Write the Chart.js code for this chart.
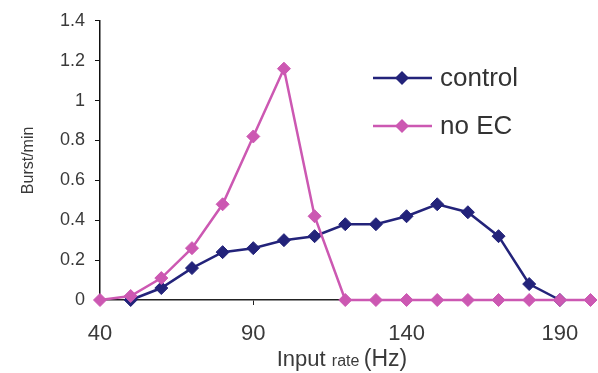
<!DOCTYPE html>
<html>
<head>
<meta charset="utf-8">
<script src="https://cdn.jsdelivr.net/npm/chart.js@4/dist/chart.umd.min.js"></script>
<style>
  html, body { margin: 0; padding: 0; background: #fff; }
  #wrap { width: 598px; height: 373px; position: relative; }
</style>
</head>
<body>
<div id="wrap"><canvas id="burstChart"></canvas></div>
<script>
// --- data ---
const inputRates = [40, 50, 60, 70, 80, 90, 100, 110, 120, 130, 140, 150, 160, 170, 180, 190, 200];
const controlBursts = [null, 0, 0.06, 0.16, 0.24, 0.26, 0.30, 0.32, 0.38, 0.38, 0.42, 0.48, 0.44, 0.32, 0.08, 0, null];
const noEcBursts = [0, 0.02, 0.11, 0.26, 0.48, 0.82, 1.16, 0.42, 0, 0, 0, 0, 0, 0, 0, 0, 0];
const xTickValues = [40, 90, 140, 190];
const seriesNames = ['control', 'no EC'];

const navy = '#23237a';
const pink = '#cc58b2';
const textColor = '#3a3a3a';
const fontFamily = 'Arial, "Liberation Sans", Helvetica, sans-serif';

// legend drawn inside the plot, top right (line + diamond + label)
const innerLegend = {
    id: 'innerLegend',
    afterDraw(chart) {
        const ctx = chart.ctx;
        const rows = [78, 126];
        ctx.save();
        chart.data.datasets.forEach((ds, i) => {
            const y = rows[i];
            ctx.strokeStyle = ds.borderColor;
            ctx.lineWidth = 2.5;
            ctx.beginPath();
            ctx.moveTo(373, y);
            ctx.lineTo(432, y);
            ctx.stroke();
            // diamond marker
            ctx.fillStyle = ds.backgroundColor;
            ctx.beginPath();
            ctx.moveTo(402, y - 7);
            ctx.lineTo(409, y);
            ctx.lineTo(402, y + 7);
            ctx.lineTo(395, y);
            ctx.closePath();
            ctx.fill();
            ctx.fillStyle = '#333';
            ctx.font = '26px ' + fontFamily;
            ctx.textBaseline = 'middle';
            ctx.textAlign = 'left';
            ctx.fillText(seriesNames[i], 440, y + 1);
        });
        ctx.restore();
    }
};

// x axis title has mixed font sizes: "Input" big, "rate" small, "(Hz)" big
const xTitle = {
    id: 'xTitle',
    afterDraw(chart) {
        const ctx = chart.ctx;
        const parts = [['Input ', 22], ['rate ', 16], ['(Hz)', 23]];
        ctx.save();
        ctx.fillStyle = textColor;
        ctx.textBaseline = 'alphabetic';
        ctx.textAlign = 'left';
        let total = 0;
        parts.forEach(p => { ctx.font = p[1] + 'px ' + fontFamily; total += ctx.measureText(p[0]).width; });
        let x = 342 - total / 2;
        parts.forEach(p => {
            ctx.font = p[1] + 'px ' + fontFamily;
            ctx.fillText(p[0], x, 366);
            x += ctx.measureText(p[0]).width;
        });
        ctx.restore();
    }
};

const ctx = document.getElementById('burstChart').getContext('2d');
new Chart(ctx, {
    type: 'line',
    data: {
        labels: inputRates,
        datasets: [{
            label: seriesNames[0],
            data: controlBursts,
            borderColor: navy,
            backgroundColor: navy,
            pointBackgroundColor: navy,
            pointBorderColor: navy,
            order: 1
        }, {
            label: seriesNames[1],
            data: noEcBursts,
            borderColor: pink,
            backgroundColor: pink,
            pointBackgroundColor: pink,
            pointBorderColor: pink,
            order: 0 // pink sits on top of navy
        }].map(ds => Object.assign(ds, {
            borderWidth: 2.5,
            pointStyle: 'rectRot',
            pointRadius: 6.5,
            pointBorderWidth: 1,
            tension: 0,
            spanGaps: false,
            clip: false
        }))
    },
    options: {
        responsive: true,
        maintainAspectRatio: false,
        animation: false,
        layout: { padding: { top: 17, right: 6, left: 0, bottom: 0 } },
        plugins: {
            legend: { display: false },
            tooltip: { enabled: false }
        },
        scales: {
            x: {
                type: 'linear',
                min: 40,
                max: 200,
                afterBuildTicks: scale => { scale.ticks = xTickValues.map(v => ({ value: v })); },
                afterFit: scale => { scale.height = 73; },
                border: { display: true, color: '#222', width: 1.5 },
                grid: { drawOnChartArea: false, drawTicks: true, tickLength: 5, color: '#222' },
                ticks: {
                    color: textColor,
                    padding: 16,
                    maxRotation: 0,
                    autoSkip: false,
                    font: { family: fontFamily, size: 22 }
                }
            },
            y: {
                min: 0,
                max: 1.4,
                afterFit: scale => { scale.width = 100; },
                border: { display: true, color: '#111', width: 1.5 },
                grid: { drawOnChartArea: false, drawTicks: true, tickLength: 5, color: '#111' },
                ticks: {
                    stepSize: 0.2,
                    color: textColor,
                    padding: 10,
                    font: { family: fontFamily, size: 18 },
                    callback: v => String(+v.toFixed(1)) // "1" not "1.0"
                },
                title: {
                    display: true,
                    text: 'Burst/min',
                    color: textColor,
                    padding: { top: 19, bottom: 0 },
                    font: { family: fontFamily, size: 16 }
                }
            }
        }
    },
    plugins: [innerLegend, xTitle]
});
</script>
</body>
</html>
